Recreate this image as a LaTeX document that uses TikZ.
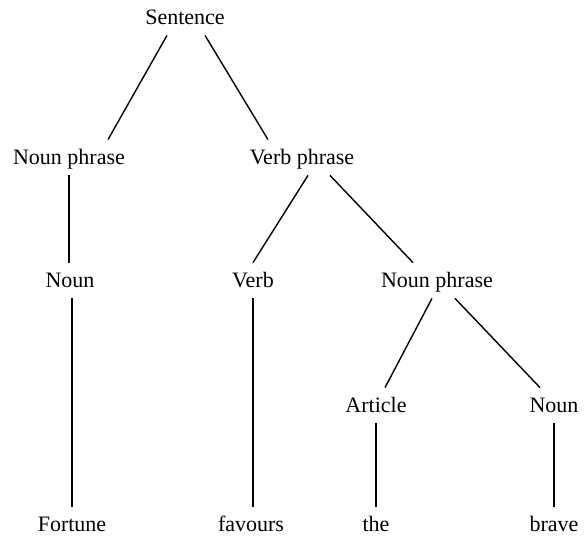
\documentclass[tikz,border=0pt]{standalone}
\usepackage{fontspec}
\setmainfont{Liberation Serif}
\usetikzlibrary{positioning}

\begin{document}
\begin{tikzpicture}[
      x=0.5pt, y=-0.5pt,
      term/.style={anchor=base, font=\fontsize{11}{13}\selectfont,
        text height=10pt, text depth=2.5pt, inner xsep=0pt, inner ysep=2.5pt},
      branch/.style={line width=0.7pt, draw=black}
    ]
    \useasboundingbox (0,0) rectangle (585,539);

    \node[term] (sent) at (185,25) {Sentence};
    \node[term] (np1) at (69,165) {Noun phrase};
    \node[term] (vp) at (302,165) {Verb phrase};
    \node[term] (n1) at (70,288) {Noun};
    \node[term] (verb) at (253,288) {Verb};
    \node[term] (np2) at (437,288) {Noun phrase};
    \node[term] (art) at (376,413) {Article};
    \node[term] (n2) at (554,413) {Noun};
    \node[term] (fortune) at (72,532) {Fortune};
    \node[term] (favours) at (251,532) {favours};
    \node[term] (the) at (376,532) {the};
    \node[term] (brave) at (554,532) {brave};

    \draw[branch] ([xshift=-9pt]sent.south) -- ([xshift=19.5pt]np1.north);
    \draw[branch] ([xshift=10pt]sent.south) -- ([xshift=-17pt]vp.north);
    \draw[branch] (np1.south) -- (np1.south |- n1.north);
    \draw[branch] ([xshift=3pt]vp.south) -- (verb.north);
    \draw[branch] ([xshift=14pt]vp.south) -- ([xshift=-12pt]np2.north);
    \draw[branch] (fortune.north |- n1.south) -- (fortune.north);
    \draw[branch] (verb.south) -- (verb.south |- favours.north);
    \draw[branch] ([xshift=-2.5pt]np2.south) -- ([xshift=4.5pt]art.north);
    \draw[branch] ([xshift=9pt]np2.south) -- ([xshift=-7pt]n2.north);
    \draw[branch] (art.south) -- (the.north);
    \draw[branch] (n2.south) -- (brave.north);
  \end{tikzpicture}
\end{document}
